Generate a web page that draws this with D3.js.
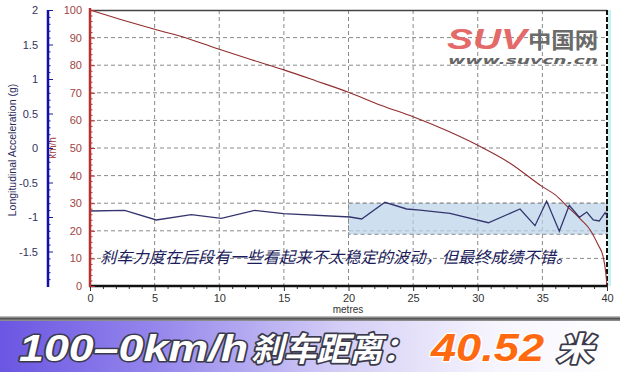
<!DOCTYPE html>
<html><head><meta charset="utf-8">
<script src="https://cdn.jsdelivr.net/npm/d3@7/dist/d3.min.js"></script>
<style>html,body{margin:0;padding:0;background:#fff;}svg{display:block;}</style>
</head><body>
<script>
// ---- data ----
const distance = [0, 2.5, 5, 7.5, 10, 12.5, 15, 17.5, 20, 22.5, 25, 27.5, 30, 32.5, 35, 36, 37, 38, 38.7, 39.3, 39.7, 39.9, 40];
const speedKmh = [100, 96.4, 93, 89.8, 85.8, 82, 78.3, 74.3, 70.2, 65.5, 61.3, 56.5, 51, 44.5, 36, 33, 28.5, 24, 20.3, 15, 10.6, 5, 0];
const accelDist = [0, 2.68, 5.13, 7.84, 10.16, 12.74, 14.96, 20.12, 21.02, 22.82, 24.5, 25.53, 27.85, 30.82, 33.27, 34.43, 35.33, 36.31, 37.08, 37.86, 38.43, 38.94, 39.4, 39.85, 40];
const accelG = [-0.913, -0.903, -1.043, -0.967, -1.019, -0.903, -0.952, -1.0, -1.029, -0.787, -0.884, -0.899, -0.946, -1.083, -0.884, -1.126, -0.768, -1.207, -0.83, -1.004, -0.928, -1.043, -1.058, -0.938, -0.986];
const xTicks = [0, 5, 10, 15, 20, 25, 30, 35, 40];
const speedTicks = [0, 10, 20, 30, 40, 50, 60, 70, 80, 90, 100];
const accelTicks = [-1.5, -1, -0.5, 0, 0.5, 1, 1.5, 2];
const bandDist = [20, 40];
const bandG = [-0.8, -1.25];
const note = "刹车力度在后段有一些看起来不太稳定的波动，但最终成绩不错。";
const bannerParts = ["100–0km/h", "刹车距离：", "40.52", "米"];

const W = 620, H = 372;
const svg = d3.select("body").append("svg").attr("width", W).attr("height", H);
const defs = svg.append("defs");

const x = d3.scaleLinear().domain([0, 40]).range([90, 607]);
const yS = d3.scaleLinear().domain([0, 100]).range([286, 10]);
const yA = d3.scaleLinear().domain([-2, 2]).range([286, 10]);

// grid
const grid = svg.append("g").attr("stroke", "#8a8a8a").attr("stroke-dasharray", "4,3").attr("stroke-width", 1);
xTicks.filter(d => d > 0 && d < 40).forEach(d => {
  grid.append("line").attr("x1", x(d)).attr("x2", x(d)).attr("y1", 10).attr("y2", 286);
});
speedTicks.filter(d => d > 0 && d < 100).forEach(d => {
  grid.append("line").attr("x1", 90).attr("x2", 607).attr("y1", yS(d)).attr("y2", yS(d));
});

// band
svg.append("rect")
  .attr("x", x(bandDist[0])).attr("width", x(bandDist[1]) - x(bandDist[0]))
  .attr("y", yA(bandG[0])).attr("height", yA(bandG[1]) - yA(bandG[0]))
  .attr("fill", "#b9d3ea").attr("fill-opacity", 0.7)
  .attr("stroke", "#8a8a8a").attr("stroke-dasharray", "4,3");

// frame
svg.append("line").attr("x1", 90).attr("x2", 607).attr("y1", 10.5).attr("y2", 10.5).attr("stroke", "#444").attr("stroke-width", 1.5);
svg.append("line").attr("x1", 609.5).attr("x2", 609.5).attr("y1", 10).attr("y2", 286).attr("stroke", "#c8f0f0").attr("stroke-width", 3);
svg.append("line").attr("x1", 607).attr("x2", 607).attr("y1", 10).attr("y2", 286).attr("stroke", "#111").attr("stroke-width", 2).attr("stroke-dasharray", "5,2");

// logo
const logo = svg.append("g");
logo.append("text").attr("x", 447).attr("y", 49).text("SUV")
  .attr("font-family", "Liberation Sans, Arial, sans-serif").attr("font-weight", "bold").attr("font-style", "italic")
  .attr("font-size", 30).attr("fill", "#e36a68").attr("textLength", 80).attr("lengthAdjust", "spacingAndGlyphs");
logo.append("text").attr("x", 528).attr("y", 48).text("中国网")
  .attr("font-family", "Noto Sans CJK SC, sans-serif").attr("font-weight", "bold")
  .attr("font-size", 22).attr("fill", "#6a6a6a").attr("textLength", 70).attr("lengthAdjust", "spacingAndGlyphs");
logo.append("text").attr("x", 448).attr("y", 64).text("www.suvcn.cn")
  .attr("font-family", "DejaVu Sans, sans-serif").attr("font-weight", "bold").attr("font-style", "italic")
  .attr("font-size", 10.5).attr("fill", "#666").attr("textLength", 150).attr("lengthAdjust", "spacingAndGlyphs");

// lines
svg.append("path").datum(d3.zip(distance, speedKmh))
  .attr("fill", "none").attr("stroke", "#922c2c").attr("stroke-width", 1.1)
  .attr("d", d3.line().x(d => x(d[0])).y(d => yS(d[1])).curve(d3.curveMonotoneX));
svg.append("path").datum(d3.zip(accelDist, accelG))
  .attr("fill", "none").attr("stroke", "#35356e").attr("stroke-width", 1.3)
  .attr("d", d3.line().x(d => x(d[0])).y(d => yA(d[1])));

// x axis
const xAxis = svg.append("g").attr("transform", "translate(0,286)")
  .call(d3.axisBottom(x).tickValues(xTicks).tickSize(5).tickPadding(3).tickFormat(d => String(d)));
xAxis.select(".domain").remove();
xAxis.selectAll("text").attr("font-family", "Liberation Sans, Arial, sans-serif").attr("font-size", 11).attr("fill", "#333");
xAxis.selectAll(".tick line").attr("stroke", "#333");
const xMinor = svg.append("g").attr("transform", "translate(0,286)")
  .call(d3.axisBottom(x).tickValues(d3.range(0, 41, 1).filter(d => d % 5 !== 0)).tickSize(3).tickFormat(""));
xMinor.select(".domain").remove();
xMinor.selectAll(".tick line").attr("stroke", "#333");
svg.append("line").attr("x1", 89).attr("x2", 607).attr("y1", 286).attr("y2", 286).attr("stroke", "#111").attr("stroke-width", 2.5);
svg.append("text").attr("x", 348).attr("y", 313).attr("text-anchor", "middle").text("metres")
  .attr("font-family", "Liberation Sans, Arial, sans-serif").attr("font-size", 10).attr("fill", "#333");

// speed axis
const sAxis = svg.append("g").attr("transform", "translate(90,0)")
  .call(d3.axisLeft(yS).tickValues(speedTicks).tickSize(-5).tickPadding(8).tickFormat(d => String(d)));
sAxis.select(".domain").remove();
sAxis.selectAll(".tick line").attr("stroke", "#b03535");
sAxis.selectAll("text").attr("font-family", "Liberation Sans, Arial, sans-serif").attr("font-size", 11).attr("fill", "#a04545");
const sMinor = svg.append("g").attr("transform", "translate(90,0)")
  .call(d3.axisLeft(yS).tickValues(d3.range(0, 101, 2).filter(d => d % 10 !== 0)).tickSize(-2.5).tickFormat(""));
sMinor.select(".domain").remove();
sMinor.selectAll(".tick line").attr("stroke", "#b03535");
svg.append("line").attr("x1", 90).attr("x2", 90).attr("y1", 8).attr("y2", 287).attr("stroke", "#b83030").attr("stroke-width", 2.5);
svg.append("text").attr("transform", "translate(56,148) rotate(-90)").attr("text-anchor", "middle").text("km/h")
  .attr("font-family", "Liberation Sans, Arial, sans-serif").attr("font-size", 10).attr("fill", "#a04545");

// accel axis
const aAxis = svg.append("g").attr("transform", "translate(48,0)")
  .call(d3.axisLeft(yA).tickValues(accelTicks).tickSize(-5).tickPadding(10).tickFormat(d => String(d)));
aAxis.select(".domain").remove();
aAxis.selectAll(".tick line").attr("stroke", "#1a1aa0");
aAxis.selectAll("text").attr("font-family", "Liberation Sans, Arial, sans-serif").attr("font-size", 11).attr("fill", "#33335e");
const aMinor = svg.append("g").attr("transform", "translate(48,0)")
  .call(d3.axisLeft(yA).tickValues(d3.range(-20, 21, 1).map(d => d / 10).filter(d => Math.abs(d * 2 - Math.round(d * 2)) > 1e-6)).tickSize(-2.5).tickFormat(""));
aMinor.select(".domain").remove();
aMinor.selectAll(".tick line").attr("stroke", "#1a1aa0");
svg.append("line").attr("x1", 48).attr("x2", 48).attr("y1", 10).attr("y2", 287).attr("stroke", "#1010a8").attr("stroke-width", 2.5);
svg.append("text").attr("transform", "translate(16,150) rotate(-90)").attr("text-anchor", "middle").text("Longitudinal Acceleration (g)")
  .attr("font-family", "Liberation Sans, Arial, sans-serif").attr("font-size", 10.5).attr("fill", "#2a2a5a");

// annotation
svg.append("text").attr("x", 100).attr("y", 263).text(note)
  .attr("font-family", "Noto Sans CJK SC, sans-serif").attr("font-style", "italic")
  .attr("font-size", 16).attr("fill", "#1c1c5c").attr("textLength", 472).attr("lengthAdjust", "spacingAndGlyphs");

// banner
const sep = defs.append("linearGradient").attr("id", "sep").attr("x1", 0).attr("x2", 0).attr("y1", 0).attr("y2", 1);
sep.append("stop").attr("offset", "0%").attr("stop-color", "#d8d8d8");
sep.append("stop").attr("offset", "50%").attr("stop-color", "#555");
sep.append("stop").attr("offset", "100%").attr("stop-color", "#999");
svg.append("rect").attr("x", 0).attr("y", 316).attr("width", W).attr("height", 5).attr("fill", "url(#sep)");
const bg = defs.append("linearGradient").attr("id", "bg").attr("x1", 0).attr("x2", 1).attr("y1", 0).attr("y2", 0);
bg.append("stop").attr("offset", "0%").attr("stop-color", "#6a56e2");
bg.append("stop").attr("offset", "25%").attr("stop-color", "#9486ec");
bg.append("stop").attr("offset", "55%").attr("stop-color", "#d4cef6");
bg.append("stop").attr("offset", "80%").attr("stop-color", "#f6f5fd");
bg.append("stop").attr("offset", "100%").attr("stop-color", "#ffffff");
svg.append("rect").attr("x", 0).attr("y", 321).attr("width", W).attr("height", H - 321).attr("fill", "url(#bg)");

const bt = svg.append("g").attr("font-weight", "bold").attr("font-style", "italic");
function bannerText(str, x0, len, fill, stroke, fam, fs, sw) {
  bt.append("text").attr("x", x0).attr("y", 361).text(str)
    .attr("font-family", fam).attr("font-size", fs)
    .attr("fill", fill).attr("stroke", stroke).attr("stroke-width", sw)
    .attr("paint-order", "stroke").attr("stroke-linejoin", "round")
    .attr("textLength", len).attr("lengthAdjust", "spacingAndGlyphs");
}
bannerText(bannerParts[0], 19, 229, "#ffffff", "#3a3a4a", "Liberation Sans, Arial, sans-serif", 36, 3);
bannerText(bannerParts[1], 251, 164, "#ffffff", "#3a3a4a", "Noto Sans CJK SC, sans-serif", 33, 3.5);
bannerText(bannerParts[2], 431, 113, "#ff6a10", "#ffffff", "Liberation Sans, Arial, sans-serif", 38, 2.5);
bannerText(bannerParts[3], 556, 37, "#ffffff", "#3a3a4a", "Noto Sans CJK SC, sans-serif", 33, 3.5);
</script>
</body></html>
